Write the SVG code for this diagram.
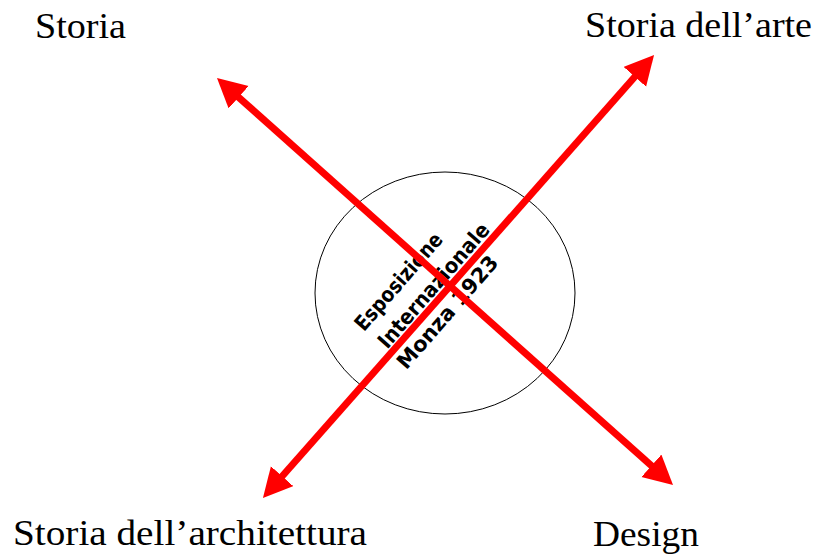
<svg xmlns="http://www.w3.org/2000/svg" width="819" height="556" viewBox="0 0 819 556">
<style>
.lbl{font-family:"Liberation Serif","Times New Roman",serif;font-size:36px;fill:#000}
.ctr{font-family:"DejaVu Sans","Liberation Sans",sans-serif;font-size:21px;font-weight:bold;fill:#000;text-anchor:middle}
.arr{stroke:#ff0000;stroke-width:7;fill:none;marker-start:url(#ah);marker-end:url(#ah)}
</style>
<defs>
<marker id="ah" markerUnits="userSpaceOnUse" markerWidth="32" markerHeight="32" viewBox="0 0 32 32" refX="9" refY="15" orient="auto-start-reverse">
<path d="M0,0 L29,15 L0,30 z" fill="#ff0000"/>
</marker>
</defs>
<rect width="819" height="556" fill="#fff"/>
<g id="center">
<ellipse cx="445" cy="293" rx="130" ry="121" fill="none" stroke="#000" stroke-width="1"/>
<g transform="translate(433,285) rotate(-49)">
<text class="ctr" x="-20" y="-21" textLength="122" lengthAdjust="spacingAndGlyphs">Esposizione</text>
<text class="ctr" x="0" y="8" textLength="158" lengthAdjust="spacingAndGlyphs">Internazionale</text>
<text class="ctr" x="-11" y="36" textLength="142" lengthAdjust="spacingAndGlyphs">Monza 1923</text>
</g>
</g>
<g id="storia"><text class="lbl" x="35" y="38" textLength="91" lengthAdjust="spacingAndGlyphs">Storia</text></g>
<g id="storia-arte"><text class="lbl" x="585" y="37" textLength="227" lengthAdjust="spacingAndGlyphs">Storia dell’arte</text></g>
<g id="storia-arch"><text class="lbl" x="13" y="545" textLength="354" lengthAdjust="spacingAndGlyphs">Storia dell’architettura</text></g>
<g id="design"><text class="lbl" x="593" y="546" textLength="106" lengthAdjust="spacingAndGlyphs">Design</text></g>
<g id="connectors">
<line class="arr" x1="231.9" y1="91.3" x2="658.1" y2="471.7"/>
<line class="arr" x1="276.2" y1="483.0" x2="640.8" y2="70.0"/>
</g>
</svg>
